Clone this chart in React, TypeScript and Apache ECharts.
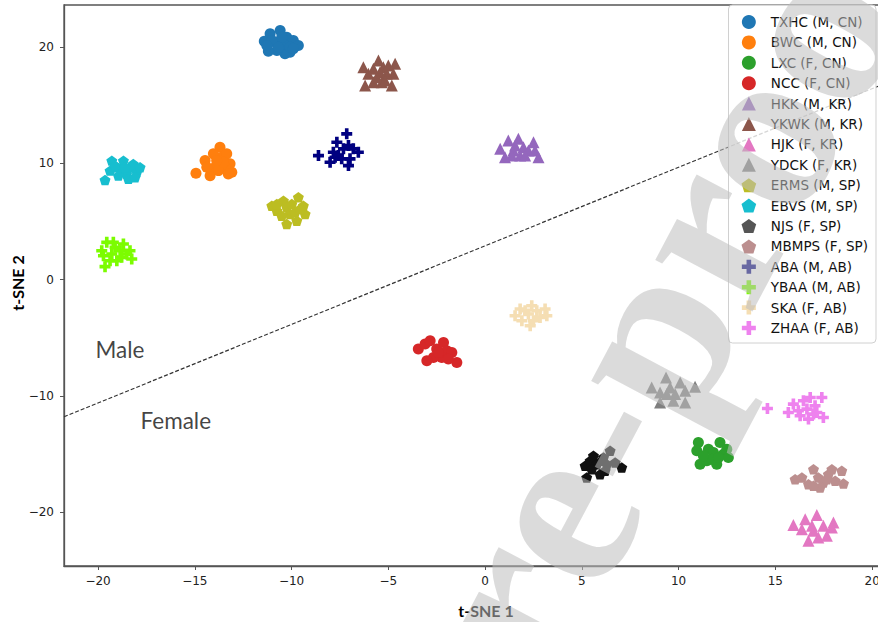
import React, { useEffect, useRef } from 'react';
import * as echarts from 'echarts';

const xTicks = [-20, -15, -10, -5, 0, 5, 10, 15, 20];
const yTicks = [-20, -10, 0, 10, 20];

const groupNames = [
  'TXHC (M, CN)', 'BWC (M, CN)', 'LXC (F, CN)', 'NCC (F, CN)',
  'HKK (M, KR)', 'YKWK (M, KR)', 'HJK (F, KR)', 'YDCK (F, KR)',
  'ERMS (M, SP)', 'EBVS (M, SP)', 'NJS (F, SP)', 'MBMPS (F, SP)',
  'ABA (M, AB)', 'YBAA (M, AB)', 'SKA (F, AB)', 'ZHAA (F, AB)',
];
const groupColors = [
  '#1f77b4', '#ff7f0e', '#2ca02c', '#d62728',
  '#9467bd', '#8c564b', '#e377c2', '#7f7f7f',
  '#bcbd22', '#17becf', '#111111', '#bc8f8f',
  '#000080', '#7cfc00', '#f5deb3', '#ee82ee',
];
const legendColors = [
  '#1f77b4', '#ff7f0e', '#2ca02c', '#d62728',
  '#9467bd', '#8c564b', '#e377c2', '#7f7f7f',
  '#bcbd22', '#17becf', '#555555', '#bc8f8f',
  '#000080', '#7cfc00', '#f5deb3', '#ee82ee',
];
const groupMarkers = [
  'circle', 'circle', 'circle', 'circle',
  'triangle', 'triangle', 'triangle', 'triangle',
  'pentagon', 'pentagon', 'pentagon', 'pentagon',
  'plus', 'plus', 'plus', 'plus',
];

const txhc = [[-11.41,20.49],[-11.11,21.13],[-10.59,21.41],[-10.25,20.83],[-9.91,20.55],[-9.65,20.12],[-10.08,19.54],[-10.34,19.41],[-10.76,19.69],[-11.2,19.63],[-10.85,20.4],[-10.42,20.27],[-10.08,19.97],[-11.02,20.55],[-10.51,20.83],[-9.91,19.84],[-10.68,19.97],[-11.28,20.12]];
const bwc = [[-14.94,9.14],[-14.47,10.23],[-14.21,8.94],[-13.95,9.66],[-13.7,11.38],[-13.61,10.52],[-13.35,10.81],[-13.09,9.23],[-13.18,9.95],[-13.44,9.66],[-13.78,9.37],[-14.38,9.66],[-14.04,10.81],[-13.52,10.09],[-13.27,9.09],[-13.87,10.23]];
const lxc = [[11.02,-13.99],[10.94,-14.7],[11.11,-15.85],[11.46,-15.56],[11.54,-14.56],[11.8,-14.85],[11.97,-15.85],[12.14,-13.99],[12.32,-14.99],[12.49,-14.56],[12.57,-15.28],[11.71,-15.42],[11.28,-15.13],[12.06,-15.28]];
const ncc = [[-3.45,-5.96],[-3.1,-5.53],[-2.84,-5.25],[-2.5,-5.96],[-2.15,-5.39],[-1.98,-6.1],[-1.72,-6.25],[-1.46,-7.11],[-2.24,-6.68],[-2.67,-6.68],[-3.01,-6.96],[-1.9,-6.82],[-2.41,-6.25]];
const hkk = [[0.78,11.24],[1.2,11.95],[1.46,11.09],[1.72,12.1],[1.98,11.38],[1.81,10.66],[1.38,10.66],[1.03,10.52],[2.24,11.09],[2.5,11.81],[2.58,11.09],[2.76,10.52],[1.55,11.52],[2.07,10.66]];
const ykwk = [[-6.29,18.25],[-6.03,17.69],[-5.77,18.12],[-5.51,18.83],[-5.43,17.83],[-5.26,18.25],[-5.08,17.69],[-5.0,18.4],[-4.65,18.55],[-4.74,17.69],[-4.82,16.68],[-5.34,16.96],[-5.77,16.96],[-6.2,16.68],[-5.6,17.4],[-5.17,17.11]];
const hjk = [[15.93,-21.07],[16.54,-20.58],[17.14,-20.21],[17.48,-21.15],[18.0,-20.87],[16.97,-21.58],[16.71,-22.44],[17.22,-22.16],[17.66,-22.01],[17.92,-21.3],[16.37,-21.44],[16.89,-21.15]];
const ydck = [[8.61,-9.26],[9.04,-9.69],[9.35,-8.4],[9.56,-9.26],[9.82,-9.83],[10.08,-8.83],[10.34,-9.54],[10.85,-9.2],[9.04,-10.55],[9.73,-10.4],[10.34,-10.55],[9.39,-9.83]];
const erms = [[-11.02,6.36],[-10.76,5.93],[-10.42,6.79],[-10.25,6.22],[-10.08,5.65],[-9.82,5.79],[-9.65,7.08],[-9.39,6.36],[-9.3,5.65],[-9.73,5.07],[-10.25,4.79],[-10.51,5.5],[-9.99,6.51],[-10.76,6.51],[-9.56,6.08]];
const ebvs = [[-19.64,8.57],[-19.29,10.23],[-19.38,9.37],[-19.03,9.66],[-18.69,10.23],[-18.78,9.37],[-18.52,9.09],[-18.35,9.66],[-18.18,9.95],[-18.0,9.23],[-17.83,9.66],[-18.43,8.66],[-18.95,8.94],[-19.12,9.8],[-18.6,9.66],[-18.09,8.8]];
const njs = [[5.25,-17.0],[5.17,-15.99],[5.43,-15.56],[5.6,-15.13],[5.77,-15.85],[6.03,-15.56],[6.2,-16.42],[6.46,-14.7],[6.29,-15.85],[6.72,-15.71],[7.06,-16.14],[5.94,-16.71],[5.51,-16.28],[6.12,-15.28]];
const mbmps = [[16.02,-17.14],[16.37,-17.0],[16.71,-17.57],[16.97,-16.28],[17.22,-17.0],[17.48,-17.43],[17.74,-16.71],[17.92,-16.28],[18.09,-17.28],[18.43,-16.42],[18.52,-17.51],[17.31,-17.86],[16.97,-17.71],[17.66,-17.14]];
const aba = [[-8.61,10.66],[-8.01,10.09],[-7.84,10.95],[-7.66,11.81],[-7.58,10.66],[-7.32,11.24],[-7.15,12.53],[-7.06,11.52],[-6.98,10.38],[-7.06,9.8],[-6.81,11.24],[-6.55,10.95],[-7.41,10.38],[-7.75,10.52]];
const ybaa = [[-19.64,1.12],[-19.81,2.49],[-19.55,3.21],[-19.29,2.21],[-19.12,2.78],[-18.86,2.49],[-18.69,3.07],[-18.52,2.21],[-18.26,1.78],[-19.03,1.63],[-19.38,1.63],[-19.72,2.06],[-18.78,1.92],[-19.21,3.21],[-18.35,2.49]];
const ska = [[1.55,-3.1],[1.81,-2.52],[1.9,-3.53],[2.24,-2.95],[2.41,-2.24],[2.5,-3.53],[2.67,-2.67],[2.84,-3.24],[3.1,-2.52],[3.19,-3.1],[2.33,-3.96],[2.07,-2.67]];
const zhaa = [[14.59,-11.07],[15.67,-11.41],[15.93,-10.69],[16.19,-11.26],[16.45,-10.4],[16.63,-11.12],[16.8,-10.12],[17.05,-10.83],[17.4,-10.12],[17.48,-11.84],[17.14,-11.41],[16.71,-11.98],[16.28,-11.69],[16.97,-11.55]];

const groupPoints = [txhc, bwc, lxc, ncc, hkk, ykwk, hjk, ydck, erms, ebvs, njs, mbmps, aba, ybaa, ska, zhaa];

const dividerLine = [[-21.76, -11.78], [20.8, 16.95]];
const annotationTexts = ['Male', 'Female'];
const annotationPositions = [[-20.16, -5.98], [-17.83, -12.12]];

const markerPaths: Record<string, string> = {
  circle: 'circle',
  triangle: 'path://M0,-1L1,1L-1,1Z',
  pentagon: 'path://M0,-1L0.951,-0.309L0.588,0.809L-0.588,0.809L-0.951,-0.309Z',
  plus: 'path://M-1,-0.33L-0.33,-0.33L-0.33,-1L0.33,-1L0.33,-0.33L1,-0.33L1,0.33L0.33,0.33L0.33,1L-0.33,1L-0.33,0.33L-1,0.33Z',
};
const markerSizes: Record<string, number> = { circle: 11, triangle: 12, pentagon: 11, plus: 11 };

const fmt = (v: number) => (v < 0 ? '\u2212' + Math.abs(v) : String(v));

const wmAngle = (62 * Math.PI) / 180;
const wmStyle = { font: 'bold 240px "Liberation Serif"', fill: 'rgba(190,190,190,0.55)', verticalAlign: 'middle' };

export default function App() {
  const ref = useRef<HTMLDivElement>(null);
  useEffect(() => {
    const chart = echarts.init(ref.current!, null, { renderer: 'svg' });
    const scatterSeries = groupNames.map((name, i) => ({
      type: 'scatter',
      name,
      data: groupPoints[i],
      symbol: markerPaths[groupMarkers[i]],
      symbolSize: markerSizes[groupMarkers[i]],
      symbolKeepAspect: true,
      itemStyle: { color: groupColors[i], opacity: 1 },
      z: 3,
      silent: true,
    }));
    const axisCommon = {
      type: 'value',
      splitLine: { show: false },
      axisLine: { show: true, onZero: false, lineStyle: { color: '#555', width: 1.3 } },
    };
    chart.setOption({
      animation: false,
      backgroundColor: '#fff',
      grid: {
        left: 64, top: 5, right: -10, bottom: 56,
        show: true, borderColor: '#555', borderWidth: 1.3,
        outerBoundsMode: 'none',
      },
      xAxis: {
        ...axisCommon,
        min: -21.76, max: 20.82,
        axisTick: { show: true, length: 4, customValues: xTicks, lineStyle: { color: '#555' } },
        axisLabel: { customValues: xTicks, formatter: fmt, fontFamily: 'DejaVu Sans', fontSize: 12, color: '#222', margin: 9 },
      },
      yAxis: {
        ...axisCommon,
        min: -24.6, max: 23.6,
        axisTick: { show: true, length: 4, customValues: yTicks, lineStyle: { color: '#555' } },
        axisLabel: { customValues: yTicks, formatter: fmt, fontFamily: 'DejaVu Sans', fontSize: 12, color: '#222', margin: 10 },
      },
      legend: {
        data: groupNames.map((name, i) => ({ name, itemStyle: { color: legendColors[i] } })),
        orient: 'vertical',
        right: 2, top: 5,
        padding: [10, 8, 8, 13],
        itemWidth: 34, itemHeight: 14, itemGap: 6.4,
        symbolKeepAspect: true,
        backgroundColor: 'rgba(255,255,255,0.8)',
        borderColor: '#d0d0d0', borderWidth: 1, borderRadius: 4,
        textStyle: { fontFamily: 'DejaVu Sans', fontSize: 13.5, color: '#111' },
        selectedMode: false,
      },
      series: [
        {
          type: 'line',
          name: 'divider',
          data: dividerLine,
          symbol: 'none',
          lineStyle: { color: '#333', width: 1.2, type: [4, 2] },
          z: 2,
          silent: true,
        },
        ...scatterSeries,
        {
          type: 'scatter',
          name: 'annotations',
          data: annotationTexts.map((t, i) => ({ name: t, value: annotationPositions[i] })),
          symbolSize: 1,
          itemStyle: { color: 'rgba(0,0,0,0)' },
          label: {
            show: true, position: 'right', distance: 0, formatter: '{b}',
            fontFamily: 'Lato', fontSize: 22.5, color: '#111',
          },
          silent: true,
        },
      ],
      graphic: [
        {
          type: 'text', x: 17, y: 283, rotation: Math.PI / 2,
          style: { text: 't-SNE 2', font: 'bold 16px Lato', fill: '#000', align: 'center', verticalAlign: 'middle' },
        },
        {
          type: 'text', x: 486, y: 610,
          style: { text: 't-SNE 1', font: 'bold 16px Lato', fill: '#000', align: 'center', verticalAlign: 'middle' },
        },
        {
          type: 'text', x: 480, y: 652, rotation: wmAngle, z: 100, silent: true,
          style: { ...wmStyle, text: 'Journal P', align: 'right' },
        },
        {
          type: 'text', x: 480, y: 652, rotation: wmAngle, z: 100, silent: true,
          style: { ...wmStyle, text: 're-proof', align: 'left' },
        },
      ],
    });
    return () => chart.dispose();
  }, []);
  return <div ref={ref} style={{ position: 'fixed', left: 0, top: 0, width: 878, height: 622 }} />;
}
